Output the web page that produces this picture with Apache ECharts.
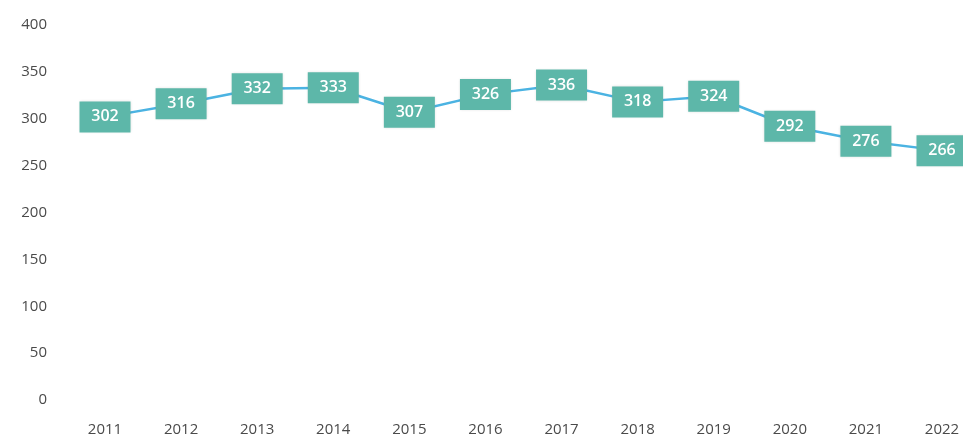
<!DOCTYPE html>
<html>
<head>
<meta charset="utf-8">
<script src="https://cdn.jsdelivr.net/npm/echarts@6/dist/echarts.min.js"></script>
<style>
  html, body { margin: 0; padding: 0; background: #fff; }
  #chart { width: 963px; height: 437px; }
</style>
</head>
<body>
<div id="chart"></div>
<script>
// 年份与数值
const years = ['2011', '2012', '2013', '2014', '2015', '2016', '2017', '2018', '2019', '2020', '2021', '2022']
const values = [302, 316, 332, 333, 307, 326, 336, 318, 324, 292, 276, 266]

const chart = echarts.init(document.getElementById('chart'))
const option = {
  backgroundColor: '#fff',
  animation: false,
  grid: { left: 105, right: 21, top: 25, bottom: 37 },
  xAxis: {
    type: 'category',
    data: years,
    boundaryGap: false,
    axisLine: { show: false },
    axisTick: { show: false },
    axisLabel: {
      margin: 22,
      color: '#4a4a4a',
      fontSize: 15,
      fontFamily: 'Open Sans'
    }
  },
  yAxis: {
    type: 'value',
    min: 0,
    max: 400,
    interval: 50,
    axisLine: { show: false },
    axisTick: { show: false },
    splitLine: { show: false },
    axisLabel: {
      margin: 58,
      color: '#4a4a4a',
      fontSize: 15,
      fontFamily: 'Open Sans'
    }
  },
  series: [{
    type: 'line',
    data: values,
    symbol: 'rect',
    symbolSize: [51, 31],
    itemStyle: {
      color: '#5db7a9',
      shadowColor: 'rgba(0,0,0,0.15)',
      shadowBlur: 3
    },
    lineStyle: { color: '#4bb3e2', width: 2.5 },
    label: {
      show: true,
      position: 'inside',
      color: '#fff',
      fontSize: 16,
      fontWeight: 600,
      fontFamily: 'Open Sans'
    }
  }]
}
chart.setOption(option)
</script>
</body>
</html>
